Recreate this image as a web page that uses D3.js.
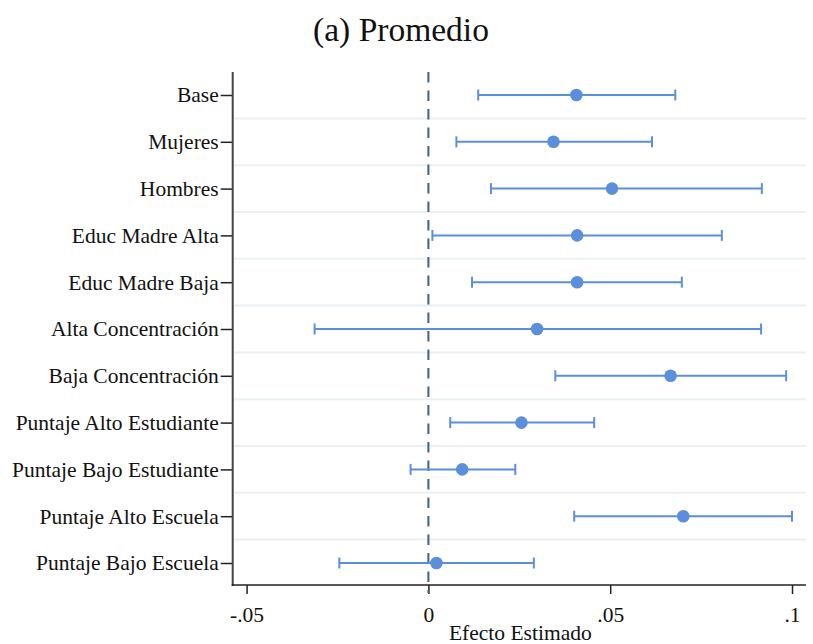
<!DOCTYPE html>
<html>
<head>
<meta charset="utf-8">
<script src="https://cdn.jsdelivr.net/npm/d3@7"></script>
<style>
    body { margin: 0; background: #fff; }
    text { font-family: "Liberation Serif", "Times New Roman", serif; fill: #111; }
</style>
</head>
<body>
<script>
"use strict";

// data
var categories = ["Base", "Mujeres", "Hombres", "Educ Madre Alta", "Educ Madre Baja",
    "Alta Concentración", "Baja Concentración", "Puntaje Alto Estudiante",
    "Puntaje Bajo Estudiante", "Puntaje Alto Escuela", "Puntaje Bajo Escuela"];
var estimates = [0.0407, 0.0344, 0.0505, 0.0409, 0.0409, 0.0299, 0.0666, 0.0256, 0.0093, 0.0701, 0.0022];
var lower = [0.0137, 0.0077, 0.0172, 0.0011, 0.0120, -0.0313, 0.0349, 0.0060, -0.0049, 0.0401, -0.0245];
var upper = [0.0679, 0.0615, 0.0917, 0.0807, 0.0697, 0.0915, 0.0984, 0.0456, 0.0239, 0.1000, 0.0290];
var xTicks = [-0.05, 0, 0.05, 0.1];
var xTickLabels = ["-.05", "0", ".05", ".1"];

var width = 813, height = 644;
var blue = "#5b8fdb";

var svg = d3.select("body").append("svg")
    .attr("width", width)
    .attr("height", height);

var x = d3.scaleLinear().domain([-0.05, 0.1]).range([246.6, 792]);
var y = d3.scalePoint().domain(categories).range([95, 563]);
var step = y.step();

var plotLeft = 232.7, plotRight = 806, plotTop = 72, plotBottom = 585;

// title
svg.append("text")
    .attr("x", 401)
    .attr("y", 41)
    .attr("text-anchor", "middle")
    .style("font-size", "33.5px")
    .text("(a) Promedio");

// horizontal separators between rows
svg.append("g").selectAll("line")
    .data(categories.slice(0, -1))
    .enter().append("line")
    .attr("x1", plotLeft + 1)
    .attr("x2", plotRight)
    .attr("y1", function(d) { return y(d) + step / 2; })
    .attr("y2", function(d) { return y(d) + step / 2; })
    .attr("stroke", "#eaf0f3")
    .attr("stroke-width", 2);

// y axis
var yAxis = svg.append("g")
    .attr("class", "y axis")
    .attr("transform", "translate(" + plotLeft + ",0)")
    .call(d3.axisLeft(y).tickSize(12).tickPadding(2));
yAxis.select(".domain").remove();
yAxis.selectAll(".tick line").attr("stroke", "#222").attr("stroke-width", 1.5);
yAxis.selectAll(".tick text").style("font-size", "21.5px").attr("fill", "#111");
svg.append("line")
    .attr("x1", plotLeft).attr("x2", plotLeft)
    .attr("y1", plotTop).attr("y2", plotBottom + 1)
    .attr("stroke", "#444").attr("stroke-width", 2);

// x axis
var xAxis = svg.append("g")
    .attr("class", "x axis")
    .attr("transform", "translate(0," + plotBottom + ")")
    .call(d3.axisBottom(x).tickValues(xTicks).tickSize(9).tickPadding(13)
        .tickFormat(function(d, i) { return xTickLabels[i]; }));
xAxis.select(".domain").remove();
xAxis.selectAll(".tick line").attr("stroke", "#222").attr("stroke-width", 1.5);
xAxis.selectAll(".tick text").style("font-size", "21.5px").attr("fill", "#111");
svg.append("line")
    .attr("x1", plotLeft - 1).attr("x2", plotRight)
    .attr("y1", plotBottom).attr("y2", plotBottom)
    .attr("stroke", "#222").attr("stroke-width", 1.5);

svg.append("text")
    .attr("x", (plotLeft + plotRight) / 2 + 1)
    .attr("y", 640)
    .attr("text-anchor", "middle")
    .style("font-size", "21.5px")
    .text("Efecto Estimado");

// reference line at zero
svg.append("line")
    .attr("x1", x(0)).attr("x2", x(0))
    .attr("y1", plotTop).attr("y2", plotBottom + 8)
    .attr("stroke", "#3f627e")
    .attr("stroke-width", 2)
    .attr("stroke-dasharray", "10.5,8");

// error bars
var rows = categories.map(function(c, i) {
    return {cat: c, est: estimates[i], lo: lower[i], hi: upper[i]};
});

var bars = svg.append("g").selectAll("g")
    .data(rows)
    .enter().append("g");

bars.append("line")
    .attr("x1", function(d) { return x(d.lo); })
    .attr("x2", function(d) { return x(d.hi); })
    .attr("y1", function(d) { return y(d.cat); })
    .attr("y2", function(d) { return y(d.cat); })
    .attr("stroke", blue).attr("stroke-width", 2);

["lo", "hi"].forEach(function(k) {
    bars.append("line")
        .attr("x1", function(d) { return x(d[k]); })
        .attr("x2", function(d) { return x(d[k]); })
        .attr("y1", function(d) { return y(d.cat) - 5.5; })
        .attr("y2", function(d) { return y(d.cat) + 5.5; })
        .attr("stroke", blue).attr("stroke-width", 2);
});

bars.append("circle")
    .attr("cx", function(d) { return x(d.est); })
    .attr("cy", function(d) { return y(d.cat); })
    .attr("r", 6.3)
    .attr("fill", blue);
</script>
</body>
</html>
